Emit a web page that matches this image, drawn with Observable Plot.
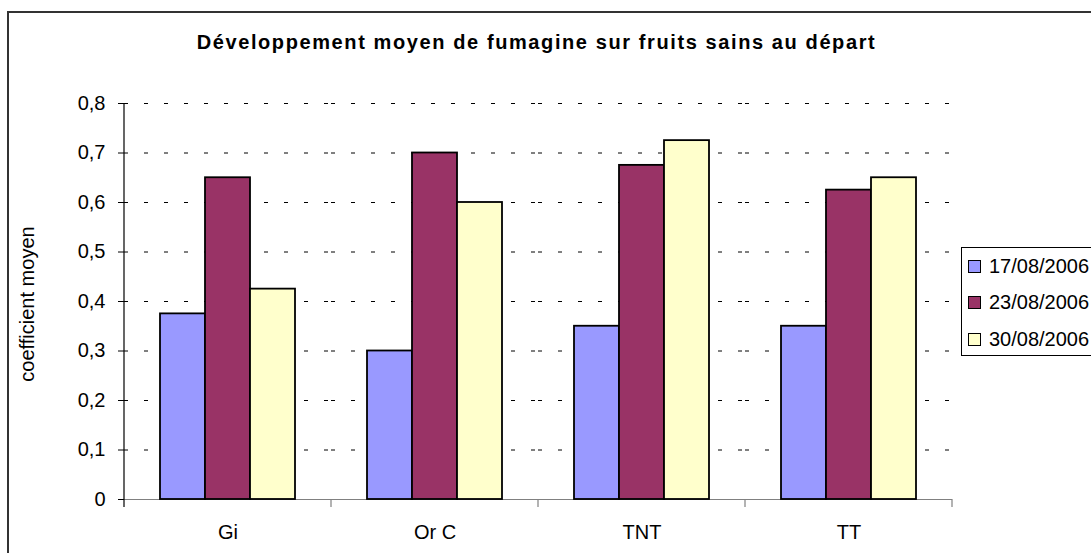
<!DOCTYPE html>
<html><head><meta charset="utf-8">
<script src="https://cdn.jsdelivr.net/npm/d3@7"></script>
<script src="https://cdn.jsdelivr.net/npm/@observablehq/plot@0.6"></script>
<style>
body{margin:0;background:#fff;overflow:hidden;font-family:"Liberation Sans",Arial,sans-serif;}
#wrap{position:relative;width:1091px;height:553px;overflow:hidden;background:#fff;}
#frame{position:absolute;left:7px;top:11px;width:1200px;height:700px;border-left:2px solid #333;border-top:2px solid #333;box-sizing:border-box;}
#chart{position:absolute;left:0;top:0;}
#title{position:absolute;left:0;width:1073px;top:31px;text-align:center;font-weight:bold;font-size:20px;letter-spacing:1.6px;white-space:nowrap;}
#ylab{position:absolute;left:27px;top:304px;transform:translate(-50%,-50%) rotate(-90deg);font-size:20px;white-space:nowrap;}
#legend{position:absolute;left:961px;top:247px;width:200px;height:109px;border:1px solid #000;background:#fff;box-sizing:border-box;}
.item{position:absolute;left:6px;height:24px;display:flex;align-items:center;font-size:20px;white-space:nowrap;}
.sw{width:11px;height:11px;border:1px solid #000;margin-right:8px;}
</style>
</head><body>
<div id="wrap">
  <div id="frame"></div>
  <div id="chart"></div>
  <div id="title"></div>
  <div id="ylab"></div>
  <div id="legend"></div>
</div>
<script>
const categories = ["Gi", "Or C", "TNT", "TT"];
const series = ["17/08/2006", "23/08/2006", "30/08/2006"];
const values17 = [0.375, 0.3, 0.35, 0.35];
const values23 = [0.65, 0.7, 0.675, 0.625];
const values30 = [0.425, 0.6, 0.725, 0.65];
const colors = ["#9999FF", "#993366", "#FFFFCC"];
const yTicks = [0, 0.1, 0.2, 0.3, 0.4, 0.5, 0.6, 0.7, 0.8];
const titleText = "Développement moyen de fumagine sur fruits sains au départ";
const yLabelText = "coefficient moyen";

const seriesValues = [values17, values23, values30];
const rows = [];
categories.forEach((c, i) => {
  series.forEach((s, j) => rows.push({cat: c, series: s, value: seriesValues[j][i]}));
});

const fmt = d => d === 0 ? "0" : d.toFixed(1).replace(".", ",");

const chart = Plot.plot({
  width: 1091,
  height: 553,
  marginLeft: 123,
  marginRight: 138,
  marginTop: 103,
  marginBottom: 54,
  style: {fontFamily: '"Liberation Sans", Arial, sans-serif', fontSize: "20px", color: "black", background: "transparent"},
  fx: {domain: categories, padding: 0, label: null, tickSize: 0, tickPadding: 25},
  x: {domain: series, paddingInner: 0, paddingOuter: 0.755, axis: null},
  y: {domain: [0, 0.8], ticks: yTicks, tickFormat: fmt, tickSize: 6, tickPadding: 13, label: null},
  color: {domain: series, range: colors},
  marks: [
    Plot.gridY(yTicks.filter(d => d > 0), {stroke: "black", strokeOpacity: 1, strokeWidth: 1, strokeDasharray: "4,16"}),
    Plot.ruleY([0], {stroke: "#808080", strokeWidth: 1.2}),
    Plot.barY(rows, {fx: "cat", x: "series", y: "value", fill: "series", stroke: "black", strokeWidth: 1.8, inset: 0})
  ]
});
document.getElementById("chart").appendChild(chart);

// axis line and category boundary ticks, from the chart's own scales
const fxs = chart.scale("fx"), ys = chart.scale("y");
const y0 = ys.apply(0), yTop = ys.apply(0.8);
const edges = categories.map(c => fxs.apply(c));
edges.push(edges[edges.length - 1] + fxs.bandwidth);
const svg = d3.select(chart);
const g = svg.append("g");
edges.forEach((x, i) => {
  if (i === 0) return;
  g.append("line").attr("x1", x).attr("x2", x).attr("y1", y0).attr("y2", y0 + 8)
    .attr("stroke", "#808080").attr("stroke-width", 1.2);
});
g.append("line").attr("x1", edges[0]).attr("x2", edges[0]).attr("y1", yTop).attr("y2", y0 + 8)
  .attr("stroke", "black").attr("stroke-width", 1.2);

document.getElementById("title").textContent = titleText;
document.getElementById("ylab").textContent = yLabelText;

const color = chart.scale("color");
const legend = document.getElementById("legend");
series.forEach((s, i) => {
  const it = document.createElement("div");
  it.className = "item";
  it.style.top = (6 + i * 36.7) + "px";
  const sw = document.createElement("div");
  sw.className = "sw";
  sw.style.background = color.apply(s);
  const t = document.createElement("span");
  t.textContent = s;
  it.appendChild(sw); it.appendChild(t);
  legend.appendChild(it);
});
</script>
</body></html>
